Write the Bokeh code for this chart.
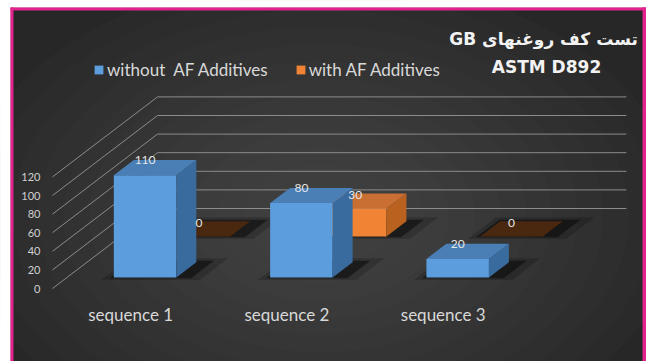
from bokeh.plotting import figure
from bokeh.models import Range1d, Legend, LegendItem
from bokeh.core.properties import value
from bokeh.embed import file_html
from bokeh.resources import INLINE

# ---------------- data ----------------
categories = ["sequence 1", "sequence 2", "sequence 3"]
without_af = [110, 80, 20]
with_af = [0, 30, 0]
series_names = ["without  AF Additives", "with AF Additives"]
y_ticks = [0, 20, 40, 60, 80, 100, 120]
title_line1 = "\u202bتست کف روغنهای  GB\u202c"
title_line2 = "ASTM D892"

# ---------------- geometry (pixel mapping of the oblique 3D view) ----------------
W, H = 646, 361
SX = 156.3          # px per category unit
SY = 0.93           # px per value unit
X0, Y0 = 52.0, 288.0  # front-left floor corner in px
DX, DY = 105.0, 80.0  # px shift when going from front (d=0) to back wall (d=1)
BW = 0.40           # bar width in category units
BT = 0.19           # bar depth (fraction of full depth)
D_BLUE, D_ORANGE = 0.1375, 0.65


def U(px):
    return (px - X0) / SX


def V(py):
    return (Y0 - py) / SY


def proj(u, v, d):
    return u + d * DX / SX, v + d * DY / SY


p = figure(width=W, height=H, x_range=Range1d(U(0), U(W)), y_range=Range1d(V(H), V(0)),
           x_axis_type=None, y_axis_type=None, toolbar_location=None,
           output_backend="svg", min_border=0)
p.outline_line_color = None
p.background_fill_color = "white"
p.border_fill_color = "white"
p.grid.visible = False

# ---------------- background ----------------
p.quad(left=[U(10)], right=[U(W)], top=[V(7)], bottom=[V(H)], fill_color="#272727", line_color=None)
n_layers = 14
ex, ey = [], []
ew, eh = [], []
for k in range(n_layers):
    s = 1 - k / n_layers
    ex.append(U(320)); ey.append(V(215))
    ew.append(2 * 360 * s / SX); eh.append(2 * 240 * s / SY)
p.ellipse(x=ex, y=ey, width=ew, height=eh, fill_color="#6a6a6a", fill_alpha=0.05, line_color=None)
# white margin + pink frame
p.quad(left=[U(0), U(0)], right=[U(10), U(W)], top=[V(0), V(0)], bottom=[V(H), V(7)],
       fill_color="white", line_color=None)
p.quad(left=[U(10), U(10), U(642)], right=[U(13), U(W), U(W)], top=[V(7), V(7), V(7)],
       bottom=[V(H), V(10), V(H)], fill_color="#e3228d", line_color=None)

# ---------------- walls ----------------
wall_xs, wall_ys = [], []
for t in y_ticks:
    a = proj(0, t, 0); b = proj(0, t, 1); c = proj(len(categories), t, 1)
    wall_xs.append([a[0], b[0], c[0]]); wall_ys.append([a[1], b[1], c[1]])
p.multi_line(xs=wall_xs, ys=wall_ys, line_color="#8c8c8c", line_width=1)

p.text(x=[0] * len(y_ticks), y=y_ticks, text=[str(t) for t in y_ticks], x_offset=-12,
       text_align="right", text_baseline="middle", text_font=value("Lato"),
       text_font_size="11px", text_color="#d0d0d0")


# ---------------- bars ----------------
def faces(vals, d0):
    out = {k: ([], []) for k in ("front", "side", "top", "shadow", "shadow2")}

    def add(key, corners):
        pts = [proj(u, v, d) for u, v, d in corners]
        out[key][0].append([q[0] for q in pts]); out[key][1].append([q[1] for q in pts])

    for i, val in enumerate(vals):
        u0, u1 = i + 0.5 - BW / 2, i + 0.5 + BW / 2
        d1 = d0 + BT
        add("front", [(u0, 0, d0), (u1, 0, d0), (u1, val, d0), (u0, val, d0)])
        add("side", [(u1, 0, d0), (u1, 0, d1), (u1, val, d1), (u1, val, d0)])
        add("top", [(u0, val, d0), (u1, val, d0), (u1, val, d1), (u0, val, d1)])
        add("shadow", [(u0 - 0.02, 0, d0 - 0.01), (u1 + 0.10, 0, d0 - 0.01), (u1 + 0.10, 0, d1 + 0.02), (u0 - 0.02, 0, d1 + 0.02)])
        add("shadow2", [(u0 - 0.06, 0, d0 - 0.03), (u1 + 0.17, 0, d0 - 0.03), (u1 + 0.17, 0, d1 + 0.05), (u0 - 0.06, 0, d1 + 0.05)])
    return out


fb = faces(without_af, D_BLUE)
fo = faces(with_af, D_ORANGE)

for f in (fo, fb):
    p.patches(xs=f["shadow2"][0], ys=f["shadow2"][1], fill_color="black", fill_alpha=0.18, line_color=None)
    p.patches(xs=f["shadow"][0], ys=f["shadow"][1], fill_color="black", fill_alpha=0.45, line_color=None)

orange_front = p.patches(xs=fo["front"][0], ys=fo["front"][1], fill_color="#f08434", line_color=None)
p.patches(xs=fo["side"][0], ys=fo["side"][1], fill_color="#b9621f", line_color=None)
p.patches(xs=fo["top"][0], ys=fo["top"][1],
          fill_color=["#4a2810" if v == 0 else "#c96f34" for v in with_af], line_color=None)

blue_front = p.patches(xs=fb["front"][0], ys=fb["front"][1], fill_color="#5b9ddd", line_color=None)
p.patches(xs=fb["side"][0], ys=fb["side"][1], fill_color="#3a6b9e", line_color=None)
p.patches(xs=fb["top"][0], ys=fb["top"][1], fill_color="#4a7fb6", line_color=None)

# data labels
for vals, d0, off in ((with_af, D_ORANGE, -14), (without_af, D_BLUE, -15)):
    pts = [proj(i + 0.5, v, d0) for i, v in enumerate(vals)]
    p.text(x=[q[0] for q in pts], y=[q[1] for q in pts], text=[str(v) for v in vals], y_offset=off,
           text_align="center", text_baseline="middle", text_font=value("Lato"),
           text_font_size="12px", text_color="#e6e6e6")

# category labels
p.text(x=[i + 0.5 for i in range(len(categories))], y=[0] * len(categories), text=categories,
       y_offset=26, text_align="center", text_baseline="middle", text_font=value("Lato"),
       text_font_size="17px", text_color="#d9d9d9")

# title
p.text(x=[U(546), U(546)], y=[V(38), V(66)], text=[title_line1, title_line2],
       text_align="center", text_baseline="middle", text_font=value("DejaVu Sans"),
       text_font_style="bold", text_font_size="17px", text_color="#f2f2f2")

# legend
legend = Legend(items=[LegendItem(label=series_names[0], renderers=[blue_front]),
                       LegendItem(label=series_names[1], renderers=[orange_front])],
                orientation="horizontal", location=(93, 281), background_fill_alpha=0,
                border_line_color=None, label_text_color="#d9d9d9", label_text_font="Lato",
                label_text_font_size="17px", glyph_width=11, glyph_height=11, padding=0,
                margin=0, spacing=27, label_standoff=3, label_height=20)
p.add_layout(legend)

open("out.html", "w").write(file_html(p, INLINE))
